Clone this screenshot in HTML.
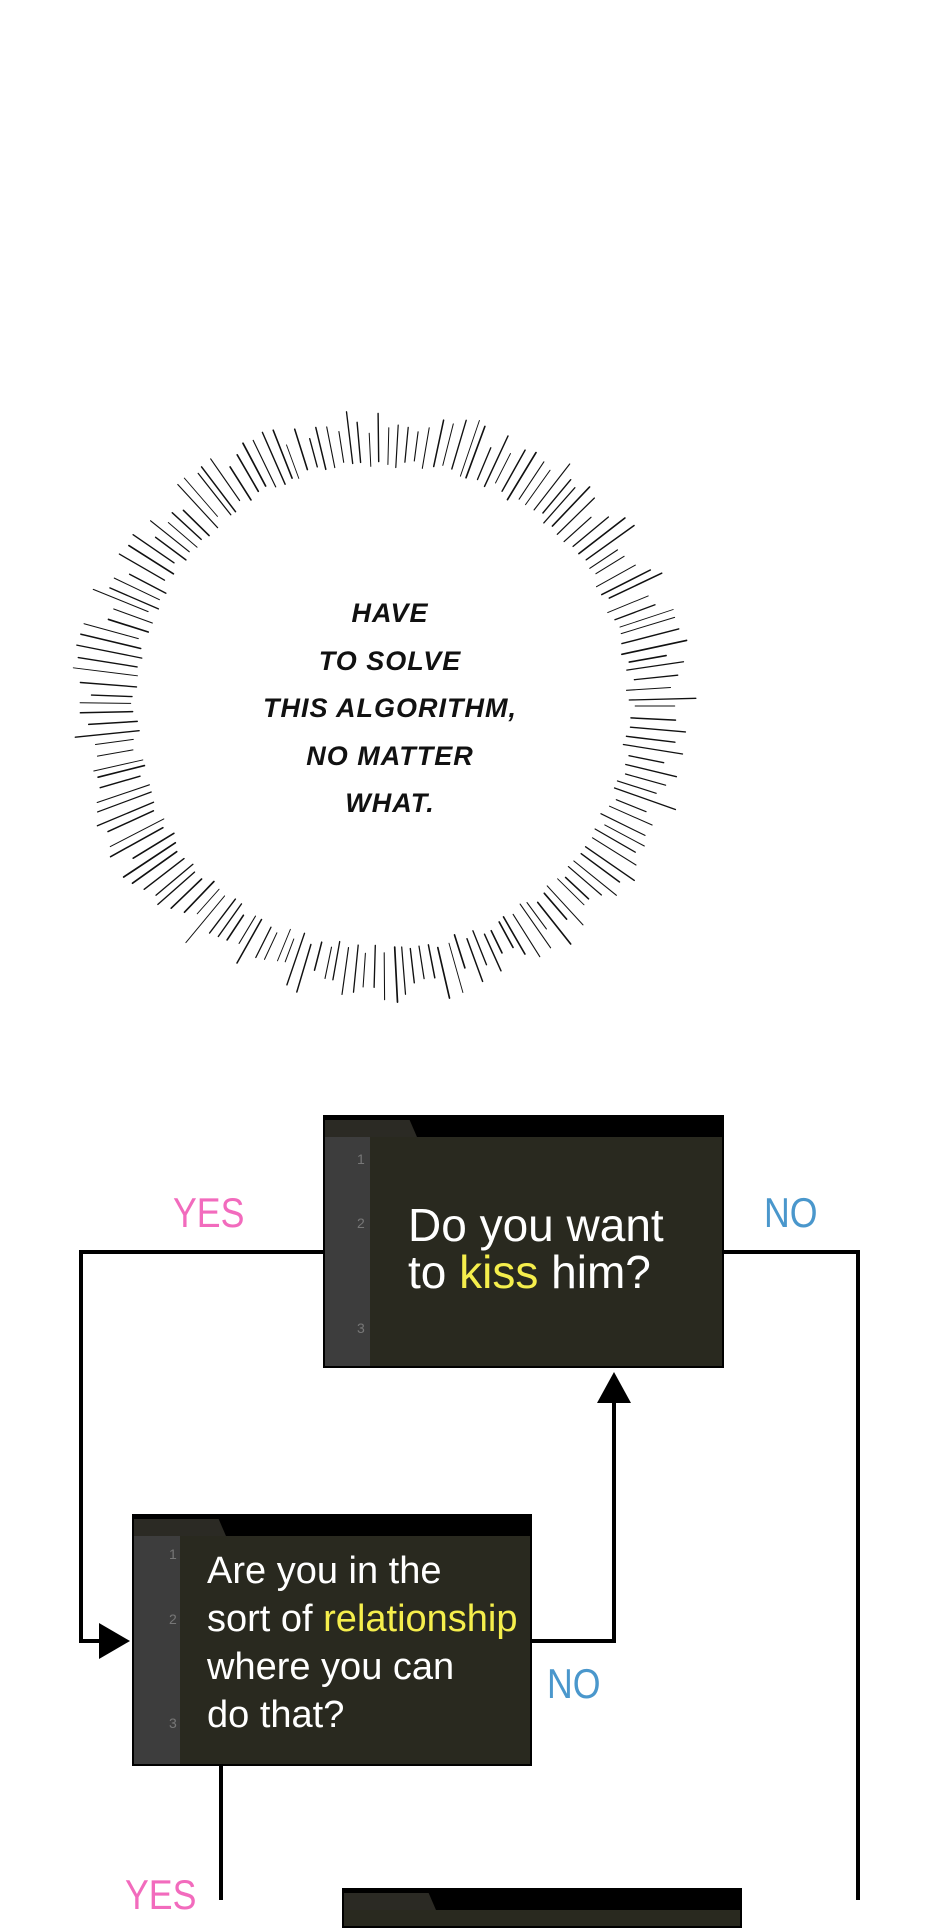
<!DOCTYPE html>
<html><head><style>
html,body{margin:0;padding:0;background:#fff;}
body{width:940px;height:1900px;position:relative;overflow:hidden;font-family:"Liberation Sans",sans-serif;}
.box{position:absolute;background:#29291f;border:2px solid #000;box-sizing:border-box;}
.hdr{position:absolute;left:0;top:0;right:0;height:20px;background:#000;}
.tab{position:absolute;left:0;top:3px;height:17px;background:#2b2a24;clip-path:polygon(0 0,92% 0,100% 100%,0 100%);}
.gut{position:absolute;left:0;top:20px;bottom:0;background:#3d3d3d;}
.num{position:absolute;color:#777;font-size:14px;}
.txt{position:absolute;color:#fff;white-space:nowrap;transform-origin:0 0;}
.y{color:#f5ee4c;}
.lab{position:absolute;font-size:42px;line-height:42px;transform:scaleX(0.85);transform-origin:0 0;}
.pk{color:#f26bbd;} .bl{color:#4a97cc;}
.burst{position:absolute;left:200px;top:590px;width:380px;text-align:center;font-style:italic;font-weight:bold;font-size:27px;line-height:47.5px;color:#111;letter-spacing:1px;}
</style></head><body>
<svg width="940" height="1900" style="position:absolute;left:0;top:0">
<g id="rays" stroke="#111" stroke-linecap="round"></g>
<g stroke="#000" stroke-width="4" fill="none">
<polyline points="325,1252 81,1252 81,1641 104,1641"/>
<polyline points="721,1252 858,1252 858,1900"/>
<polyline points="530,1641 614,1641 614,1395"/>
<line x1="221" y1="1765" x2="221" y2="1900"/>
</g>
<polygon points="99,1623 130,1641 99,1659" fill="#000"/>
<polygon points="597,1403 614,1372 631,1403" fill="#000"/>
</svg>
<div class="burst">HAVE<br>TO SOLVE<br>THIS ALGORITHM,<br>NO MATTER<br>WHAT.</div>

<div class="lab pk" style="left:173px;top:1192px">YES</div>
<div class="lab bl" style="left:764px;top:1192px">NO</div>
<div class="lab bl" style="left:547px;top:1663px">NO</div>
<div class="lab pk" style="left:125px;top:1874px">YES</div>

<div class="box" style="left:323px;top:1115px;width:401px;height:253px">
<div class="hdr"></div><div class="tab" style="width:92px"></div>
<div class="gut" style="width:45px"></div>
<div class="num" style="left:32px;top:34px">1</div>
<div class="num" style="left:32px;top:98px">2</div>
<div class="num" style="left:32px;top:203px">3</div>
<div class="txt" style="left:83px;top:85px;font-size:46px;line-height:47px">Do you want<br>to <span class="y">kiss</span> him?</div>
</div>

<div class="box" style="left:132px;top:1514px;width:400px;height:252px">
<div class="hdr"></div><div class="tab" style="width:92px"></div>
<div class="gut" style="width:46px"></div>
<div class="num" style="left:35px;top:30px">1</div>
<div class="num" style="left:35px;top:95px">2</div>
<div class="num" style="left:35px;top:199px">3</div>
<div class="txt" style="left:73px;top:31px;font-size:38px;line-height:48px">Are you in the<br>sort of <span class="y">relationship</span><br>where you can<br>do that?</div>
</div>

<div class="box" style="left:342px;top:1888px;width:400px;height:40px">
<div class="hdr"></div><div class="tab" style="width:92px"></div>
</div>

<script>
var g=document.getElementById('rays'),s='',seed=7;
function r(){seed=(seed*16807)%2147483647;return seed/2147483647;}
var cx=382,cy=706,n=170;
for(var i=0;i<n;i++){var a=i/n*Math.PI*2+r()*0.015;
var c=Math.cos(a),sn=Math.sin(a);
var base=238+Math.abs(c)*6;
var r1=base+r()*10,r2=base+28+r()*30+Math.abs(c)*12;
s+='<line x1="'+(cx+c*r1).toFixed(1)+'" y1="'+(cy+sn*r1).toFixed(1)+'" x2="'+(cx+c*r2).toFixed(1)+'" y2="'+(cy+sn*r2).toFixed(1)+'" stroke-width="'+(0.9+r()*0.8).toFixed(2)+'"/>';}
g.innerHTML=s;
</script>
</body></html>
